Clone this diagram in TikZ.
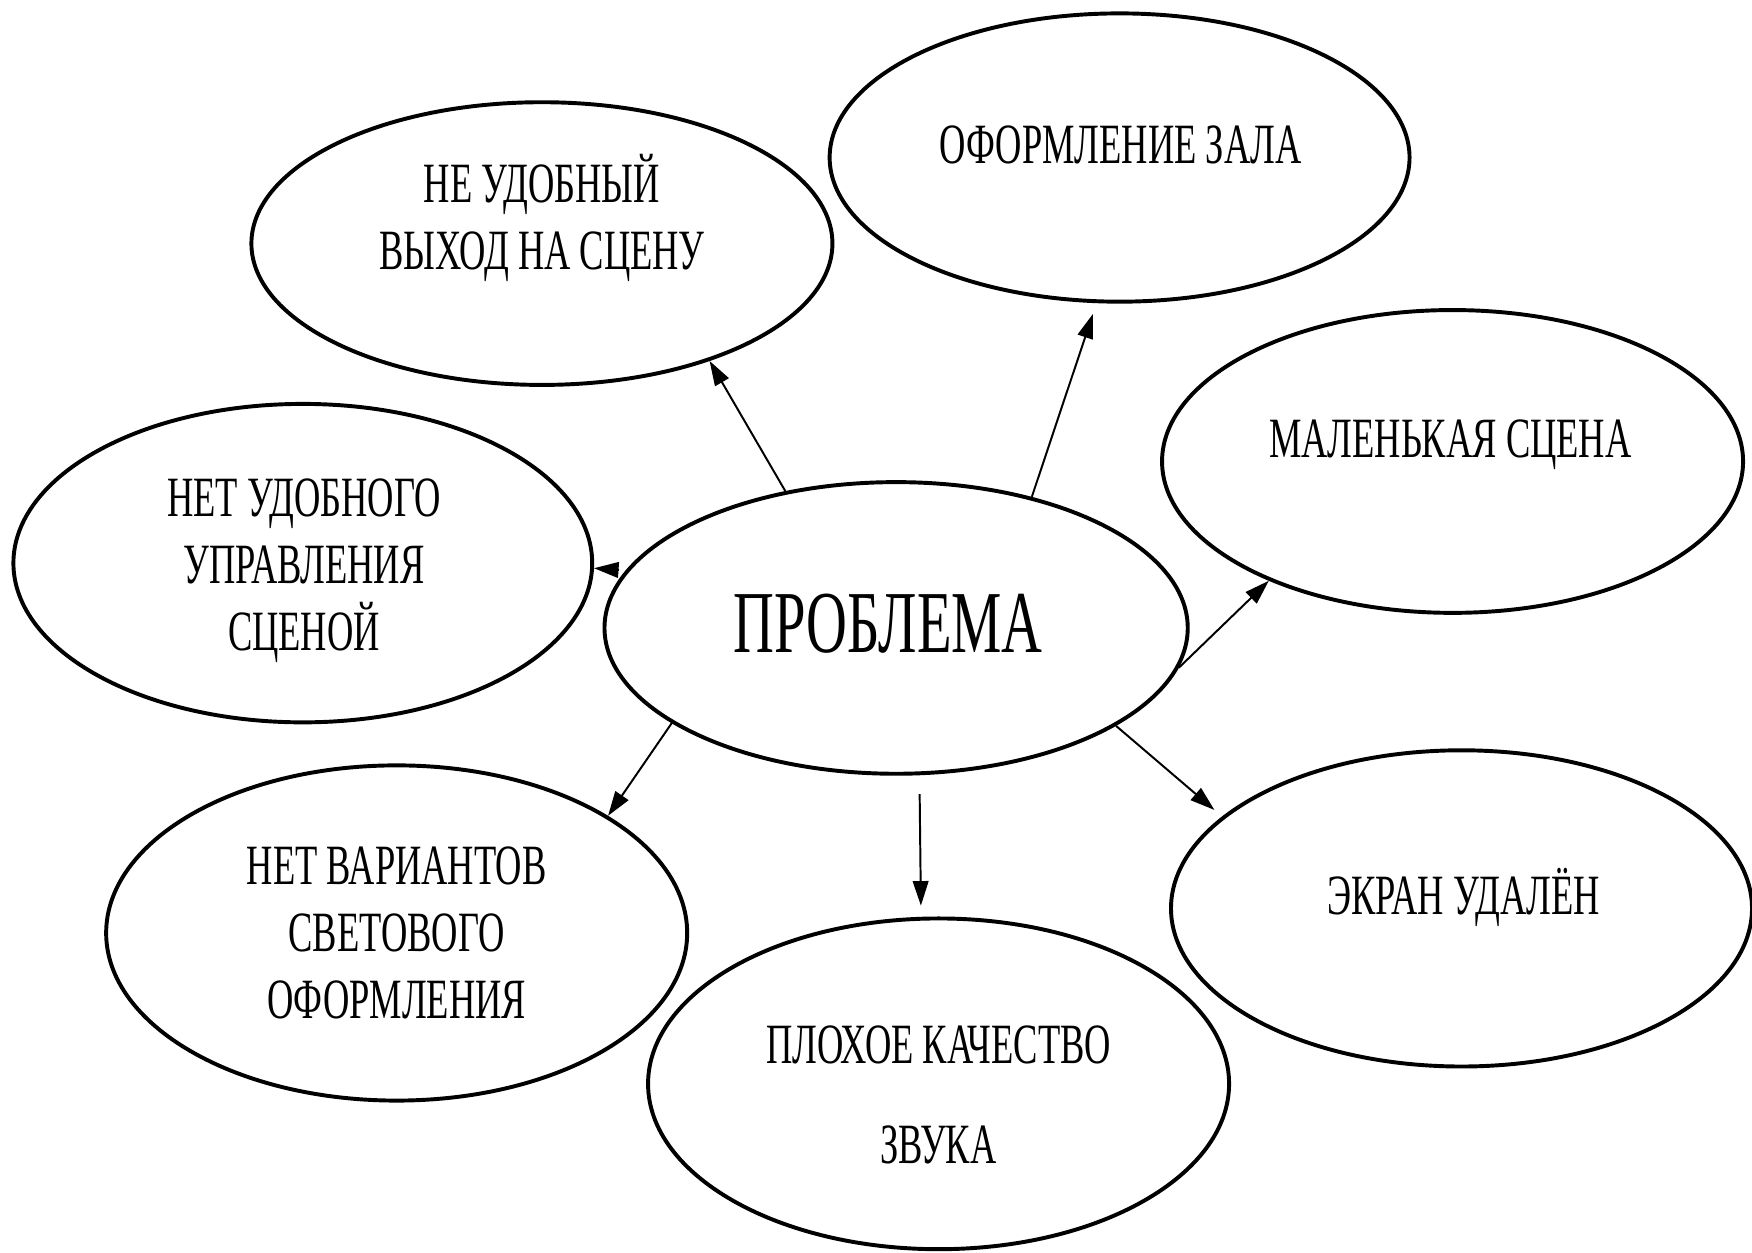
\documentclass[tikz,border=0pt]{standalone}
\usepackage{fontspec}
\setmainfont{Liberation Serif}[FakeStretch=0.64]
\usetikzlibrary{shapes,arrows.meta,calc}

\begin{document}
\begin{tikzpicture}[
  ell/.style={draw, ellipse, line width=1pt, inner sep=0pt, minimum width=5.2cm},
  txt/.style={align=center, font=\fontsize{14.5}{17}\selectfont},
  >={Triangle[length=2.2mm,width=1.4mm]}]
  \useasboundingbox (0,0) rectangle (15.68,-11.21);

  % the ellipses
  \node[ell, minimum width=5.22cm, minimum height=2.61cm] (prob) at (8.02,-5.62) {};
  \node[ell, minimum height=2.53cm] (vyhod) at (4.85,-2.18) {};
  \node[ell, minimum width=5.19cm, minimum height=2.58cm] (zal) at (10.02,-1.41) {};
  \node[ell, minimum height=2.71cm] (scena) at (13.00,-4.13) {};
  \node[ell, minimum width=5.18cm, minimum height=2.85cm] (uprav) at (2.71,-5.04) {};
  \node[ell, minimum height=3.00cm] (svet) at (3.55,-8.35) {};
  \node[ell, minimum height=2.96cm] (zvuk) at (8.40,-9.70) {};
  \node[ell, minimum height=2.83cm] (ekran) at (13.08,-8.13) {};

  % the texts
  \node[txt, font=\fontsize{22.5}{26}\selectfont] (probtxt) at (7.95,-5.58) {ПРОБЛЕМА};
  \node[txt] (vyhodtxt) at (4.85,-1.95) {НЕ УДОБНЫЙ\\ВЫХОД НА СЦЕНУ};
  \node[txt] (zaltxt) at (10.03,-1.30) {ОФОРМЛЕНИЕ ЗАЛА};
  \node[txt] (scenatxt) at (12.98,-3.98) {МАЛЕНЬКАЯ СЦЕНА};
  \node[txt] (upravtxt) at (2.72,-5.11) {НЕТ УДОБНОГО\\УПРАВЛЕНИЯ\\СЦЕНОЙ};
  \node[txt] (svettxt) at (3.55,-8.35) {НЕТ ВАРИАНТОВ\\СВЕТОВОГО\\ОФОРМЛЕНИЯ};
  \node[txt, font=\fontsize{14.5}{25.6}\selectfont] (zvuktxt) at (8.40,-9.80) {ПЛОХОЕ КАЧЕСТВО\\ЗВУКА};
  \node[txt] (ekrantxt) at (13.10,-8.03) {ЭКРАН УДАЛЁН};

  % the arrows
  \draw[->, line width=.5pt] (prob.129) -- (vyhod.-35);
  \draw[->, line width=.5pt, shorten >=1mm] (prob.44) -- (zal.-99);
  \draw[->, line width=.5pt] (prob.-8.5) -- (scena.-147);
  \draw[->, line width=.5pt, shorten <=.6mm] (prob.168.6) -- (uprav.-1.8);
  \draw[->, line width=.5pt] (prob.-157.3) -- (svet.29);
  \draw[->, line width=.5pt, shorten <=1.7mm, shorten >=1mm] (prob.-81.3) -- (zvuk.96.2);
  \draw[->, line width=.5pt, shorten >=.9mm] (prob.-24.8) -- (ekran.159.6);

\end{tikzpicture}
\end{document}
